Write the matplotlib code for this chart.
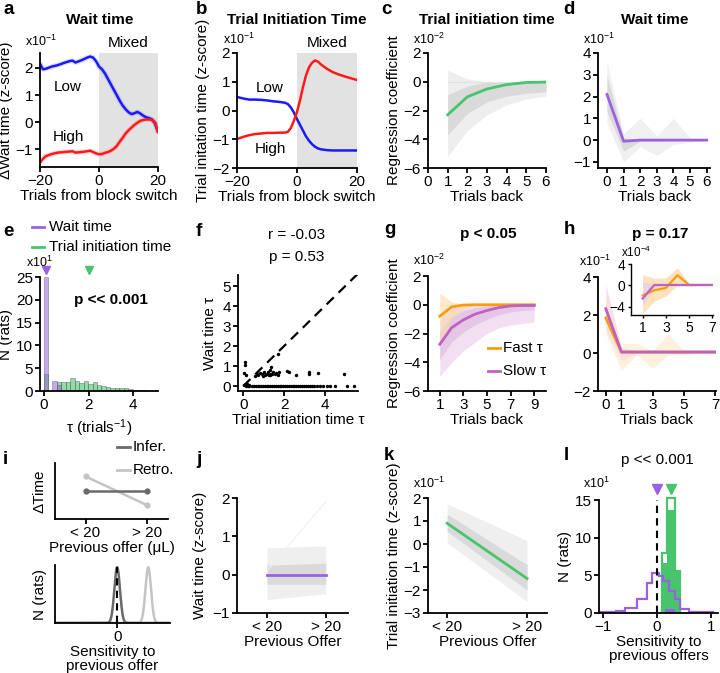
import numpy as np
import matplotlib.pyplot as plt
from matplotlib.lines import Line2D

plt.rcParams['font.family'] = ['Liberation Sans', 'DejaVu Sans']
plt.rcParams['mathtext.default'] = 'regular'
plt.rcParams['font.size'] = 11
plt.rcParams['axes.linewidth'] = 1.3
for a in ('xtick', 'ytick'):
    plt.rcParams[a + '.major.width'] = 1.3
    plt.rcParams[a + '.major.size'] = 3.5
    plt.rcParams[a + '.major.pad'] = 1.5
    plt.rcParams[a + '.labelsize'] = 11

BLUE = '#1a1aff'
RED = '#ff1a1a'
GREEN = '#48c46c'
PURPLE = '#9a62e0'
ORANGE = '#ff9a0e'
ORCHID = '#bd62c2'

# ---- a: wait time around block switch (x10^-1)
a_x = [-20, -19, -18, -16, -14, -12, -10, -9, -8, -6, -4, -3, -2, -1, 0, 1, 2, 3, 4, 5, 6, 7, 8, 9,
       10, 11, 12, 13, 14, 15, 16, 17, 18, 19, 20]
a_low = [2.15, 1.95, 1.97, 2.05, 2.1, 2.18, 2.25, 2.27, 2.2, 2.28, 2.38, 2.42, 2.38, 2.25, 2.05, 1.95,
         1.8, 1.6, 1.4, 1.2, 1.0, 0.8, 0.62, 0.48, 0.37, 0.3, 0.33, 0.38, 0.32, 0.24, 0.18, 0.15, 0.1,
         -0.05, -0.35]
a_high = [-1.48, -1.35, -1.25, -1.17, -1.12, -1.1, -1.08, -1.07, -1.12, -1.1, -1.07, -1.05, -1.1,
          -1.15, -1.18, -1.17, -1.13, -1.1, -1.05, -0.98, -0.88, -0.72, -0.58, -0.42, -0.3, -0.2,
          -0.1, -0.02, 0.05, 0.08, 0.1, 0.1, 0.08, 0.0, -0.35]

# ---- b: trial initiation time around block switch (x10^-1)
b_x = [-20, -18, -16, -14, -12, -10, -8, -6, -4, -3, -2, -1, 0, 1, 2, 3, 4, 5, 6, 7, 8, 10, 12, 14,
       16, 18, 20]
b_low = [0.47, 0.42, 0.38, 0.38, 0.37, 0.35, 0.32, 0.3, 0.27, 0.22, 0.1, -0.08, -0.3, -0.5, -0.7,
         -0.9, -1.05, -1.17, -1.26, -1.32, -1.35, -1.38, -1.39, -1.39, -1.39, -1.39, -1.39]
b_high = [-0.99, -0.92, -0.86, -0.82, -0.8, -0.78, -0.78, -0.77, -0.77, -0.74, -0.6, -0.35, -0.05,
          0.35, 0.82, 1.22, 1.5, 1.66, 1.74, 1.7, 1.6, 1.45, 1.33, 1.25, 1.18, 1.12, 1.06]

# ---- c: regression, trial initiation time (x10^-2)
c_x = [1, 2, 3, 4, 5, 6]
c_mean = [-2.3, -1.05, -0.5, -0.2, -0.05, -0.02]
c_out_lo = [-5.2, -3.4, -2.3, -1.6, -1.2, -1.0]
c_out_hi = [0.8, 0.2, 0.0, 0.0, 0.0, 0.0]
c_in_lo = [-3.7, -2.2, -1.4, -1.0, -0.8, -0.7]
c_in_hi = [-0.9, -0.3, 0.0, 0.0, 0.0, 0.0]

# ---- d: regression, wait time (x10^-1)
d_x = [0, 1, 2, 3, 4, 5, 6]
d_mean = [2.1, -0.05, 0.0, 0.0, 0.0, 0.0, 0.0]
d_out_lo = [0.8, -1.0, -0.3, -0.7, -0.2, -0.1, 0.0]
d_out_hi = [3.6, 0.3, 1.0, 0.2, 1.0, 0.1, 0.0]
d_in_lo = [1.3, -0.5, -0.05, -0.05, 0.0, 0.0, 0.0]
d_in_hi = [3.0, 0.1, 0.05, 0.05, 0.05, 0.0, 0.0]

# ---- e: histogram of tau (x10^1)
e_left = [-0.02, 0.18, 0.38, 0.58, 0.78, 0.98, 1.18, 1.38, 1.58, 1.78, 1.98, 2.18, 2.38, 2.58,
          2.78, 2.98, 3.18, 3.38, 3.58, 3.78, 3.98, 4.18, 4.38]
e_wait = [25, 0, 2.3, 1.4, 0, 0, 0, 0, 0, 0, 0, 0, 0, 0, 0, 0, 0, 0, 0, 0, 0.3, 0.3, 0.3]
e_init = [3.8, 0, 0, 2.0, 2.0, 2.0, 2.8, 2.3, 1.8, 2.1, 1.6, 2.0, 1.4, 1.2, 0.9, 0.7, 0.7, 0.6,
          0.6, 0.5, 0, 0, 0]
e_arrow_wait = 0.08
e_arrow_init = 2.0

# ---- f: wait tau vs initiation tau
f_init = [0.08, 0.08, 0.05, 0.15, 0.2, 0.3, 0.02, 0.65, 0.7, 0.8, 0.9, 1.0, 1.05, 1.15, 1.2, 1.3,
          1.35, 1.4, 1.45, 1.55, 1.6, 1.7, 1.75, 1.35, 1.3, 1.7, 2.15, 2.25, 2.6, 3.2, 3.2, 3.65,
          4.95, 0.55, 0.95, 1.25]
f_wait = [1.18, 1.05, 0.65, 0.55, 0.1, 0.05, 0.05, 0.6, 0.55, 0.65, 0.6, 0.68, 0.55, 0.62, 0.7,
          0.55, 0.62, 0.58, 0.72, 0.6, 0.66, 0.55, 0.7, 0.93, 0.8, 1.6, 0.75, 0.7, 0.55, 0.72,
          0.58, 0.63, 0.6, 0.5, 0.5, 0.55]
f_zero_init = [0.12, 0.22, 0.3, 0.42, 0.5, 0.6, 0.7, 0.78, 0.88, 0.95, 1.05, 1.15, 1.22, 1.32,
               1.4, 1.5, 1.58, 1.68, 1.78, 1.86, 1.95, 2.05, 2.15, 2.22, 2.32, 2.42, 2.5, 2.6,
               2.7, 2.78, 2.88, 2.98, 3.05, 3.15, 3.25, 3.35, 3.45, 3.6, 3.78, 3.9, 4.1, 4.25,
               4.5, 5.1, 5.4]

# ---- g: regression split by tau (x10^-2)
g_x = [1, 2, 3, 4, 5, 6, 7, 8, 9]
g_fast = [-0.8, -0.15, -0.02, 0, 0, 0, 0, 0, 0]
g_slow = [-2.75, -1.6, -1.05, -0.65, -0.4, -0.2, -0.08, -0.05, -0.05]
g_fast_lo = [-3.0, -1.0, -0.3, 0, 0, 0, 0, 0, 0]
g_fast_hi = [0.8, 0.2, 0.05, 0, 0, 0, 0, 0, 0]
g_slow_lo = [-5.0, -4.0, -3.2, -2.6, -2.0, -1.6, -1.4, -1.3, -1.2]
g_slow_hi = [-1.0, -0.3, 0, 0, 0, 0, 0, 0, 0]
g_slow_in_lo = [-3.8, -2.6, -1.9, -1.4, -1.0, -0.7, -0.5, -0.4, -0.35]
g_slow_in_hi = [-1.8, -0.8, -0.4, -0.2, -0.1, 0, 0, 0, 0]

# ---- h: wait time regression split by tau (x10^-1), inset x10^-4
h_x = [0, 1, 2, 3, 4, 5, 6, 7]
h_fast = [1.85, 0.05, 0.05, 0.05, 0.05, 0.05, 0.05, 0.05]
h_slow = [2.33, 0.05, 0.05, 0.05, 0.05, 0.05, 0.05, 0.05]
h_fast_lo = [1.0, -0.9, -0.1, -0.8, -0.1, -0.1, 0, 0]
h_fast_hi = [3.0, 0.5, 0.5, 0.1, 1.0, 0.1, 0.05, 0.05]
h_slow_lo = [1.2, -0.4, 0, 0, 0, 0, 0, 0]
h_slow_hi = [3.6, 0.3, 0.1, 0.05, 0.05, 0.05, 0.05, 0.05]
hi_x = [1, 2, 3, 4, 5, 6, 7]
hi_fast = [-1.9, -0.95, -0.5, 1.9, 0.05, 0.05, 0.05]
hi_slow = [-2.5, 0.05, 0.05, 0.05, 0.05, 0.05, 0.05]
hi_fast_lo = [-5.3, -3.0, -2.0, 0.0, -0.2, 0, 0]
hi_fast_hi = [2.0, 1.3, 1.4, 3.3, 0.3, 0, 0]
hi_slow_lo = [-3.8, -0.3, 0, 0, 0, 0, 0]
hi_slow_hi = [0.6, 0.3, 0, 0, 0, 0, 0]

# ---- i: schematic
i_pos = [0, 1]
i_infer = [0.5, 0.5]
i_retro = [0.76, 0.25]
i_infer_center, i_retro_center, i_width = 0.0, 1.0, 0.09

# ---- j: wait time vs previous offer
jk_pos = [0, 1]
jk_labels = ['< 20', '> 20']
j_mean = [0.0, 0.0]
j_out_lo, j_out_hi = [-0.65, -0.5], [0.7, 0.75]
j_in_lo, j_in_hi = [-0.25, -0.25], [0.25, 0.3]
j_outlier = [0.1, 1.9]

# ---- k: trial initiation time vs previous offer (x10^-1)
k_mean = [0.9, -1.5]
k_out_lo, k_out_hi = [0.05, -2.5], [1.75, 0.15]
k_in_lo, k_in_hi = [0.55, -2.0], [1.3, -0.9]

# ---- l: sensitivity histograms (x10^1)
l_purple_edges = [-1.05, -0.77, -0.6, -0.37, -0.185, -0.09, 0.03, 0.12, 0.22, 0.34, 0.43, 0.6, 1.05]
l_purple_vals = [0.1, 0.25, 0.6, 1.8, 4.0, 5.3, 4.85, 4.2, 2.9, 1.8, 0.5, 0.12]
l_purple_fill_edges = [0.15, 0.34]
l_purple_fill_vals = [0.5]
l_green_edges = [0.09, 0.185, 0.34, 0.43]
l_green_fill = [6.6, 13.7, 5.6]
l_green_step = [7.9, 15.2, 5.6]
l_arrow_wait = 0.0
l_arrow_init = 0.26

W, H = 720, 673
fig = plt.figure(figsize=(7.2, 6.73), dpi=100)


def box(l, t, r, b):
    ax = fig.add_axes([l / W, 1 - b / H, (r - l) / W, (b - t) / H])
    ax.spines[['top', 'right']].set_visible(False)
    return ax


def ftext(x, y, s, **kw):
    fig.text(x / W, 1 - y / H, s, **kw)


def fline(x0, x1, y, color):
    fig.add_artist(Line2D([x0 / W, x1 / W], [1 - y / H, 1 - y / H], color=color, lw=2))


def letter(x, y, s):
    ftext(x, y, s, fontsize=13.5, fontweight='bold', va='center', ha='left')


def title(x, y, s):
    ftext(x, y, s, fontsize=11, fontweight='bold', va='center', ha='center')


def mult(x, y, p, size=9):
    ftext(x, y, 'x10$^{%s}$' % p, fontsize=size, va='center', ha='left')


# a
ax = box(40, 53, 158, 167)
ax.axvspan(0, 20, color='#e2e2e2', lw=0)
ax.plot(a_x, a_low, color=BLUE, lw=3.5, alpha=0.15, solid_capstyle='round')
ax.plot(a_x, a_high, color=RED, lw=3.5, alpha=0.15, solid_capstyle='round')
ax.plot(a_x, a_low, color=BLUE, lw=1.8)
ax.plot(a_x, a_high, color=RED, lw=1.8)
ax.set_xlim(-20, 20)
ax.set_ylim(-1.65, 2.55)
ax.set_xticks([-20, 0, 20])
ax.set_yticks([-1, 0, 1, 2])
ax.set_xlabel('Trials from block switch', labelpad=1)
ax.set_ylabel('ΔWait time (z-score)', labelpad=2)
ax.text(-10.5, 1.3, 'Low', ha='center', va='center')
ax.text(-10.5, -0.55, 'High', ha='center', va='center')
ftext(128, 43, 'Mixed', ha='center', va='center')
mult(25, 41, '-1')
title(100, 20, 'Wait time')
letter(3, 10, 'a')

# b
ax = box(237, 53, 357, 168)
ax.axvspan(0, 20, color='#e2e2e2', lw=0)
ax.plot(b_x, b_low, color=BLUE, lw=1.8)
ax.plot(b_x, b_high, color=RED, lw=1.8)
ax.set_xlim(-20, 20)
ax.set_ylim(-2, 2)
ax.set_xticks([-20, 0, 20])
ax.set_yticks([-2, -1, 0, 1, 2])
ax.set_xlabel('Trials from block switch', labelpad=1)
ax.set_ylabel('Trial initation time (z-score)', labelpad=2)
ax.text(-9, 0.8, 'Low', ha='center', va='center')
ax.text(-9, -1.35, 'High', ha='center', va='center')
ftext(327, 43, 'Mixed', ha='center', va='center')
mult(223, 39, '-1')
title(297, 20, 'Trial Initiation Time')
letter(196, 10, 'b')

# c
ax = box(428, 53, 546, 168)
ax.fill_between(c_x, c_out_lo, c_out_hi, color='#eeeeee', lw=0)
ax.fill_between(c_x, c_in_lo, c_in_hi, color='#dadada', lw=0)
ax.plot(c_x, [0] * len(c_x), color='#e2e2e2', lw=0.8)
ax.plot(c_x, c_mean, color=GREEN, lw=2)
ax.set_xlim(0, 6)
ax.set_ylim(-6, 2)
ax.set_xticks(range(7))
ax.set_yticks([-6, -4, -2, 0, 2])
ax.set_xlabel('Trials back', labelpad=1)
ax.set_ylabel('Regression coefficient', labelpad=2)
mult(413, 39, '-2')
title(487, 20, 'Trial initiation time')
letter(381, 10, 'c')

# d
ax = box(598, 53, 710, 168)
ax.fill_between(d_x, d_out_lo, d_out_hi, color='#f0f0f0', lw=0)
ax.fill_between(d_x, d_in_lo, d_in_hi, color='#dadada', lw=0)
ax.plot(d_x, d_mean, color=PURPLE, lw=2)
ax.set_xlim(-0.54, 6.2)
ax.set_ylim(-1.28, 4)
ax.set_xticks(range(7))
ax.set_yticks([-1, 0, 1, 2, 3, 4])
ax.set_xlabel('Trials back', labelpad=1)
mult(583, 39, '-1')
title(655, 20, 'Wait time')
letter(563, 10, 'd')

# e
ax = box(40, 277, 158, 391)
ax.bar(e_left, e_init, width=0.2, align='edge', color=GREEN, alpha=0.6,
       edgecolor='#555555', lw=0.5)
ax.bar(e_left, e_wait, width=0.2, align='edge', color=PURPLE, alpha=0.55,
       edgecolor='#555555', lw=0.5)
ax.plot([e_arrow_wait], [26.6], marker='v', color=PURPLE, ms=6, clip_on=False)
ax.plot([e_arrow_init], [26.6], marker='v', color=GREEN, ms=6, clip_on=False)
ax.set_xlim(-0.18, 5.12)
ax.set_ylim(0, 25)
ax.set_xticks([0, 2, 4])
ax.set_yticks([0, 5, 10, 15, 20, 25])
ax.set_xlabel('τ (trials$^{-1}$)', labelpad=4)
ax.set_ylabel('N (rats)', labelpad=2)
ax.text(3.0, 20, 'p << 0.001', fontweight='bold', ha='center', va='center')
fline(32, 44, 227, PURPLE)
ftext(49, 227, 'Wait time', ha='left', va='center')
fline(32, 44, 247, GREEN)
ftext(49, 247, 'Trial initiation time', ha='left', va='center')
mult(26, 262, '1')
letter(3, 232, 'e')

# f
ax = box(238, 275, 358, 391)
ax.plot([0, 5.62], [0, 5.62], color='black', lw=1.6, ls=(0, (4.5, 3)))
ax.scatter(f_zero_init, [0] * len(f_zero_init), s=6, color='black', lw=0)
ax.scatter(f_init, f_wait, s=6, color='black', lw=0)
ax.set_xlim(-0.26, 5.62)
ax.set_ylim(-0.25, 5.55)
ax.set_xticks([0, 2, 4])
ax.set_yticks([0, 1, 2, 3, 4, 5])
ax.set_xlabel('Trial initiation time τ', labelpad=1)
ax.set_ylabel('Wait time τ', labelpad=4)
ftext(297, 235, 'r = -0.03', ha='center', va='center')
ftext(297, 257, 'p = 0.53', ha='center', va='center')
letter(196, 232, 'f')

# g
ax = box(428, 276, 546, 391)
ax.fill_between(g_x, g_slow_lo, g_slow_hi, color='#f2e0f2', lw=0)
ax.fill_between(g_x, g_slow_in_lo, g_slow_in_hi, color='#e6c6e6', lw=0)
ax.fill_between(g_x, g_fast_lo, g_fast_hi, color='#fbd9a8', lw=0, alpha=0.6)
ax.plot(g_x, [0] * len(g_x), color='#fde3c0', lw=1)
ax.plot(g_x, g_fast, color=ORANGE, lw=2)
ax.plot(g_x, g_slow, color=ORCHID, lw=2)
ax.set_xlim(0, 10)
ax.set_ylim(-6, 2)
ax.set_xticks([1, 3, 5, 7, 9])
ax.set_yticks([-6, -4, -2, 0, 2])
ax.set_xlabel('Trials back', labelpad=1)
ax.set_ylabel('Regression coefficient', labelpad=2)
fline(488, 500, 348, ORANGE)
ftext(503, 348, 'Fast τ', ha='left', va='center')
fline(488, 500, 371, ORCHID)
ftext(503, 371, 'Slow τ', ha='left', va='center')
mult(413, 260, '-2')
title(488, 234, 'p < 0.05')
letter(384, 230, 'g')

# h
ax = box(598, 277, 716, 391)
ax.fill_between(h_x, h_slow_lo, h_slow_hi, color='#f2e0f2', lw=0)
ax.fill_between(h_x, h_fast_lo, h_fast_hi, color='#fde6c6', lw=0, alpha=0.6)
ax.plot(h_x, h_fast, color=ORANGE, lw=2)
ax.plot(h_x, h_slow, color=ORCHID, lw=2)
ax.set_xlim(-0.5, 7.05)
ax.set_ylim(-2, 4)
ax.set_xticks([0, 1, 3, 5, 7])
ax.set_yticks([-2, 0, 2, 4])
ax.set_xlabel('Trials back', labelpad=1)
mult(579, 261, '-1')
title(660, 234, 'p = 0.17')
letter(564, 230, 'h')

ax = box(631, 264, 713, 315)
ax.fill_between(hi_x, hi_fast_lo, hi_fast_hi, color='#fde2bb', lw=0)
ax.fill_between(hi_x, hi_slow_lo, hi_slow_hi, color='#e6cde6', lw=0, alpha=0.8)
ax.plot(hi_x, hi_fast, color=ORANGE, lw=1.6)
ax.plot(hi_x, hi_slow, color=ORCHID, lw=1.6)
ax.set_xlim(0, 7.05)
ax.set_ylim(-5.6, 4)
ax.set_xticks([1, 3, 5, 7])
ax.set_yticks([-4, 0, 4])
ax.tick_params(labelsize=10, length=2.5, width=1)
for s in ('left', 'bottom'):
    ax.spines[s].set_linewidth(1)
mult(621, 252, '-4', size=8.5)

# i (schematic)
ax = box(55, 463, 168, 519)
ax.plot(i_pos, i_retro, color='#c4c4c4', lw=1.8, marker='o', ms=3.5)
ax.plot(i_pos, i_infer, color='#6a6a6a', lw=1.8, marker='o', ms=3.5)
ax.set_xlim(-0.5, 1.35)
ax.set_ylim(0, 1)
ax.set_xticks(i_pos)
ax.set_xticklabels(jk_labels)
ax.set_yticks([])
ax.set_xlabel('Previous offer (μL)', labelpad=1)
ax.set_ylabel('ΔTime', labelpad=6)
fline(117, 130, 447, '#6a6a6a')
ftext(133, 447, 'Infer.', ha='left', va='center')
fline(117, 130, 470, '#c4c4c4')
ftext(133, 470, 'Retro.', ha='left', va='center')
letter(3, 460, 'i')

ax = box(55, 565, 170, 623)
sx = np.linspace(-2, 1.7, 400)
ax.plot(sx, np.exp(-0.5 * ((sx - i_retro_center) / i_width) ** 2), color='#c4c4c4', lw=1.8)
ax.plot(sx, np.exp(-0.5 * ((sx - i_infer_center) / i_width) ** 2), color='#6a6a6a', lw=1.8)
ax.plot([0, 0], [0, 1], color='black', lw=1.5, ls=(0, (3.5, 2.5)))
ax.set_xlim(-2, 1.7)
ax.set_ylim(0, 1.04)
ax.set_xticks([0])
ax.set_yticks([])
ax.set_xlabel('Sensitivity to\nprevious offer', labelpad=1, linespacing=0.95)
ax.set_ylabel('N (rats)', labelpad=6)

# j
ax = box(237, 498, 348, 613)
ax.fill_between(jk_pos, j_out_lo, j_out_hi, color='#efefef', lw=0)
ax.fill_between(jk_pos, j_in_lo, j_in_hi, color='#dadada', lw=0)
ax.plot(jk_pos, j_outlier, color='#f0f0f0', lw=0.8)
ax.plot(jk_pos, j_mean, color=PURPLE, lw=2)
ax.set_xlim(-0.51, 1.38)
ax.set_ylim(-1, 2)
ax.set_xticks(jk_pos)
ax.set_xticklabels(jk_labels)
ax.set_yticks([-1, 0, 1, 2])
ax.set_xlabel('Previous Offer', labelpad=1)
ax.set_ylabel('Wait time (z-score)', labelpad=4)
letter(196, 460, 'j')

# k
ax = box(428, 498, 547, 613)
ax.fill_between(jk_pos, k_out_lo, k_out_hi, color='#efefef', lw=0)
ax.fill_between(jk_pos, k_in_lo, k_in_hi, color='#dadada', lw=0)
ax.plot(jk_pos, k_mean, color=GREEN, lw=2)
ax.set_xlim(-0.24, 1.25)
ax.set_ylim(-3, 2)
ax.set_xticks(jk_pos)
ax.set_xticklabels(jk_labels)
ax.set_yticks([-3, -2, -1, 0, 1, 2])
ax.set_xlabel('Previous Offer', labelpad=1)
ax.set_ylabel('Trial initiation time (z-score)', labelpad=2)
mult(413, 483, '-1')
letter(384, 455, 'k')

# l
ax = box(599, 500, 718, 613)
ax.plot([-1.05, 1.05], [0.05, 0.05], color=GREEN, lw=1.2, alpha=0.6)
ax.stairs(l_green_fill, l_green_edges, fill=True, color=GREEN)
ax.stairs(l_green_step, l_green_edges, color=GREEN, lw=1.6, clip_on=False)
ax.stairs(l_purple_fill_vals, l_purple_fill_edges, fill=True, color=PURPLE)
ax.stairs(l_purple_vals, l_purple_edges, color=PURPLE, lw=1.6)
ax.plot([0, 0], [0, 15], color='black', lw=1.5, ls=(0, (3.5, 2.5)))
ax.plot([l_arrow_wait], [16.4], marker='v', color=PURPLE, ms=6.5, clip_on=False)
ax.plot([l_arrow_init], [16.4], marker='v', color=GREEN, ms=6.5, clip_on=False)
ax.set_xlim(-1.08, 1.135)
ax.set_ylim(0, 15)
ax.set_xticks([-1, 0, 1])
ax.set_yticks([0, 5, 10, 15])
ax.set_xlabel('Sensitivity to\nprevious offers', labelpad=1, linespacing=0.95)
ax.set_ylabel('N (rats)', labelpad=2)
ftext(657, 460, 'p << 0.001', ha='center', va='center')
mult(583, 483, '1')
letter(564, 455, 'l')

fig.savefig('out.png', dpi=100)
